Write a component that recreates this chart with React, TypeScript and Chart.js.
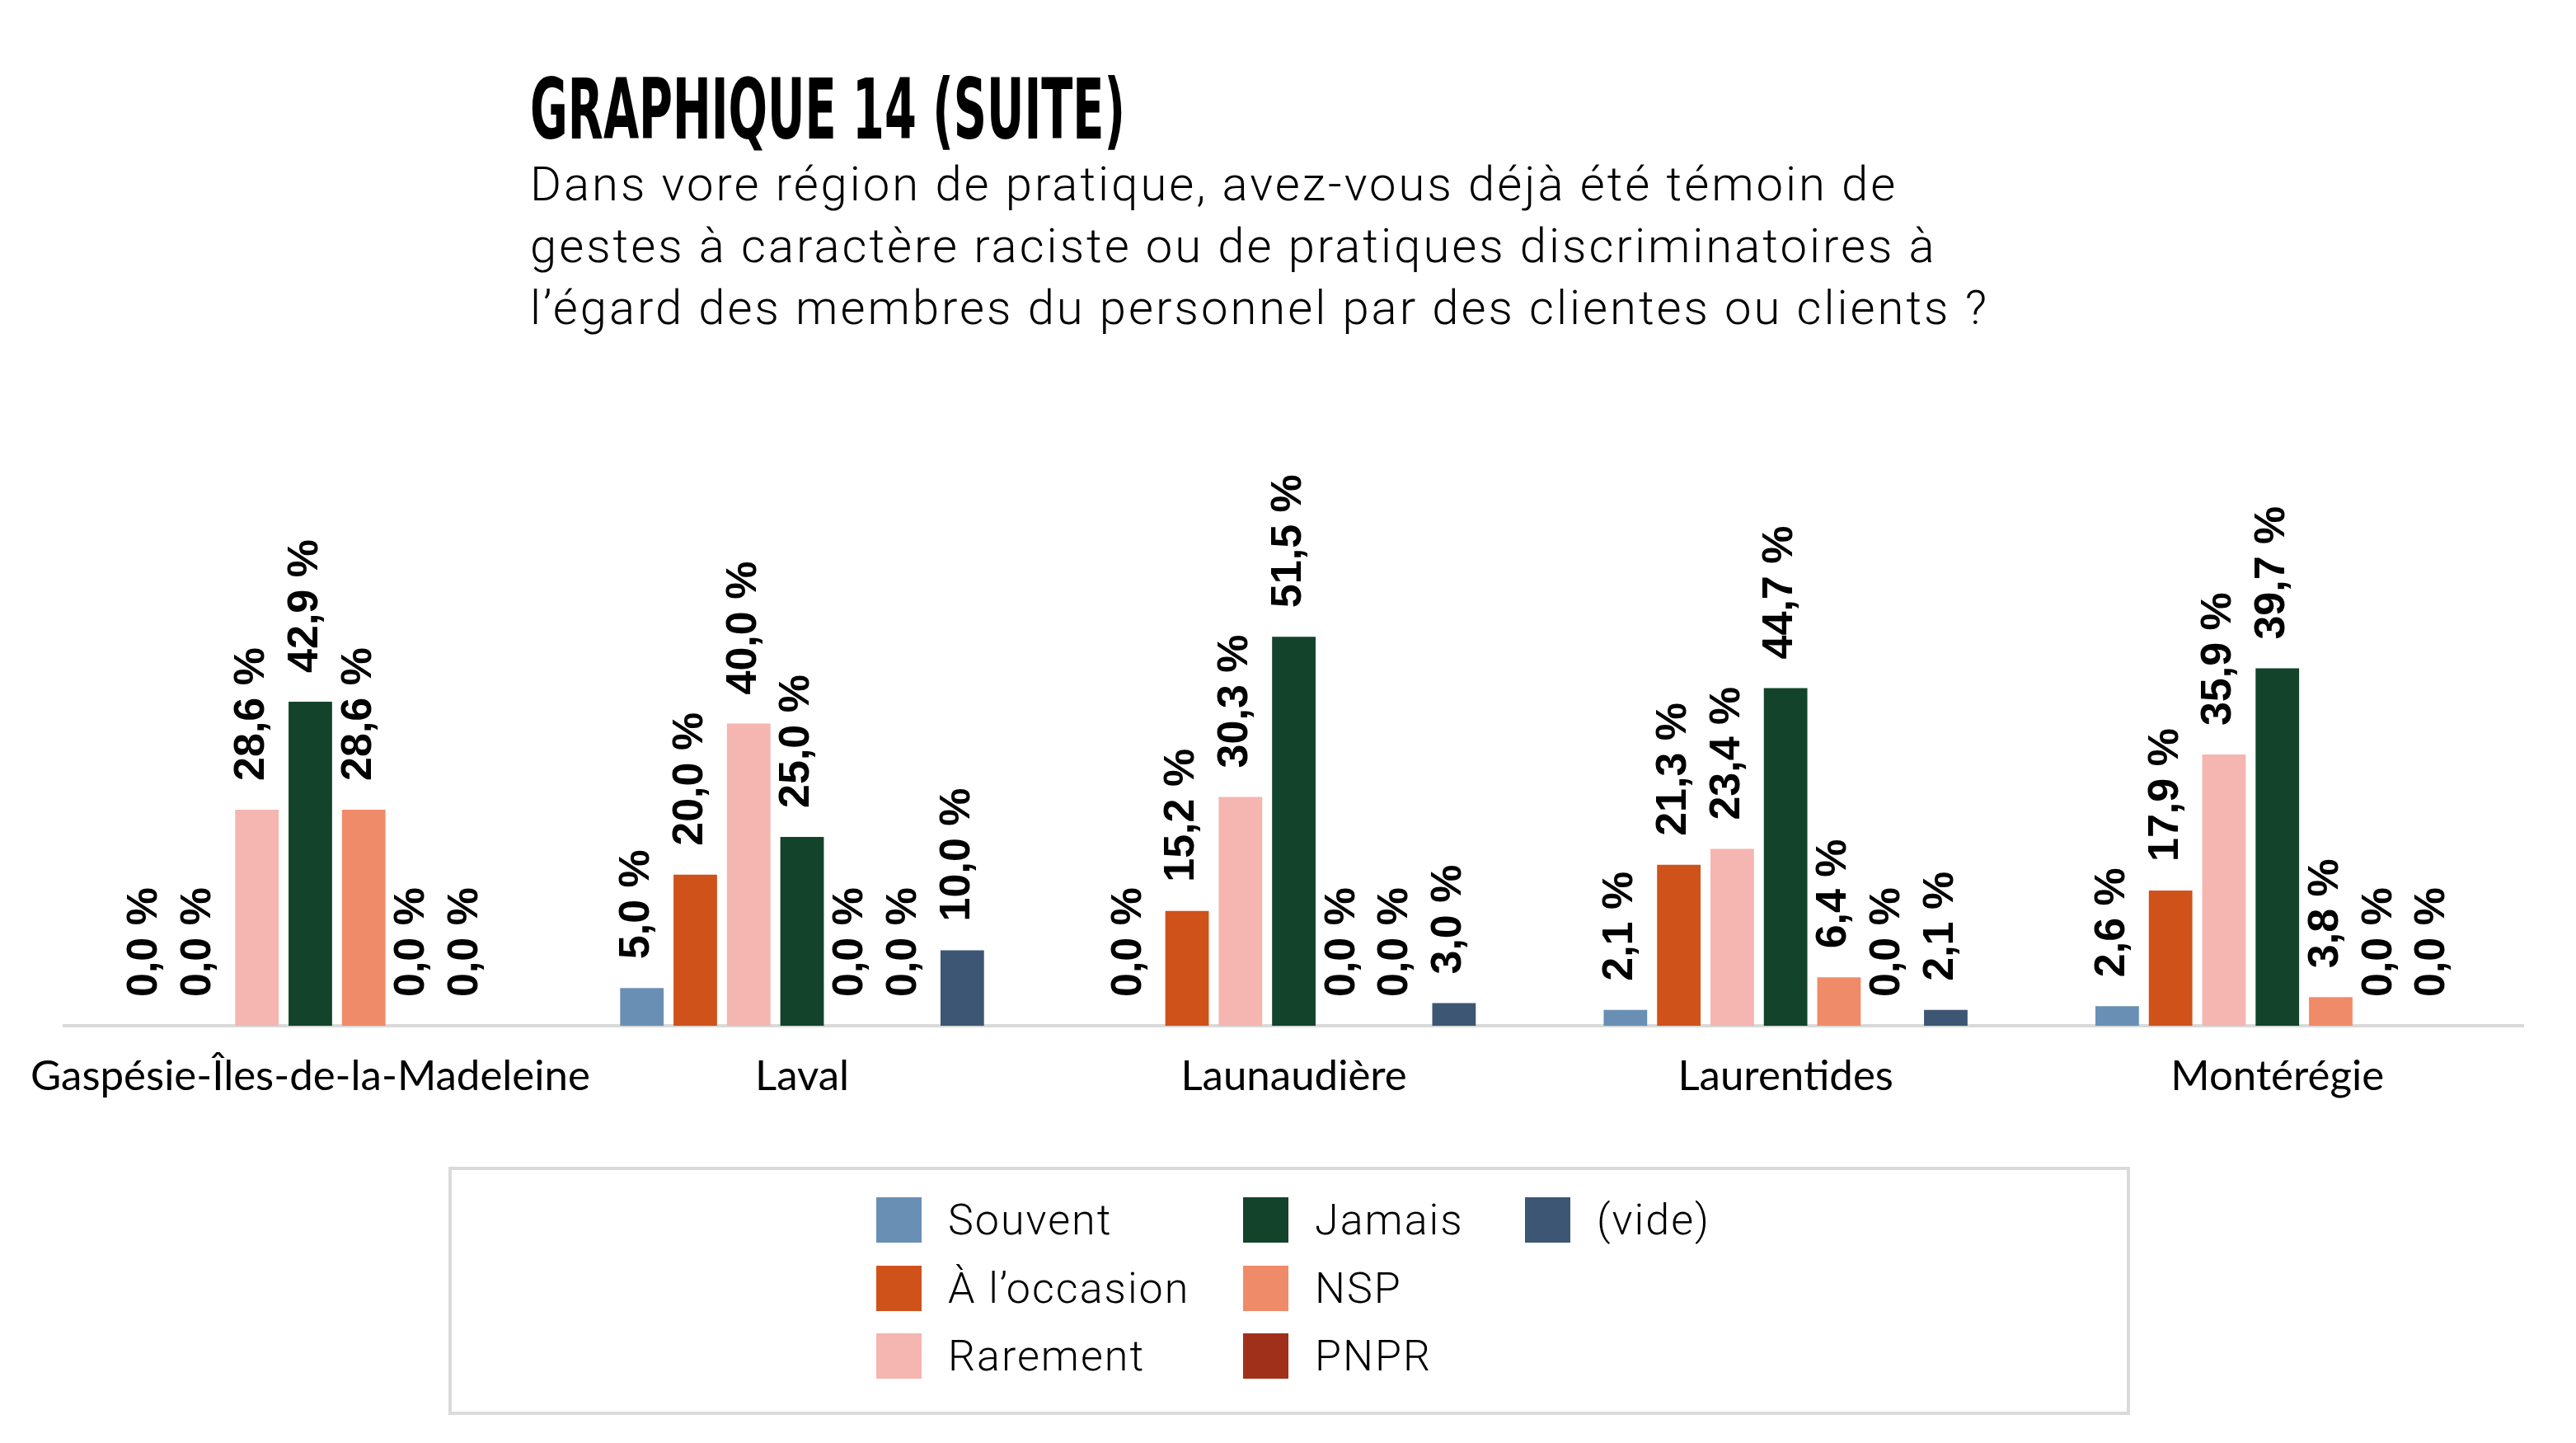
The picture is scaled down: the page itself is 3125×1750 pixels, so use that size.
import React, { useEffect, useLayoutEffect, useRef } from "react";
import { Chart, registerables } from "chart.js";

Chart.register(...registerables);

// ---------- data ----------
const categories = [
  "Gaspésie-Îles-de-la-Madeleine",
  "Laval",
  "Launaudière",
  "Laurentides",
  "Montérégie",
];
const seriesNames = ["Souvent", "À l’occasion", "Rarement", "Jamais", "NSP", "PNPR", "(vide)"];
const seriesColors = ["#6a8fb4", "#cf521b", "#f5b5b0", "#13432b", "#f08b69", "#a1301a", "#3d5674"];
const souvent = [0.0, 5.0, 0.0, 2.1, 2.6];
const occasion = [0.0, 20.0, 15.2, 21.3, 17.9];
const rarement = [28.6, 40.0, 30.3, 23.4, 35.9];
// bar heights as drawn in the source (the Montérégie bar is drawn taller than its printed label)
const jamais = [42.9, 25.0, 51.5, 44.7, 47.3];
// values printed above the Jamais bars
const jamaisPrinted = [42.9, 25.0, 51.5, 44.7, 39.7];
const nsp = [28.6, 0.0, 0.0, 6.4, 3.8];
const pnpr = [0.0, 0.0, 0.0, 0.0, 0.0];
const vide = [0.0, 10.0, 3.0, 2.1, 0.0];
const seriesValues = [souvent, occasion, rarement, jamais, nsp, pnpr, vide];
const printedValues = [souvent, occasion, rarement, jamaisPrinted, nsp, pnpr, vide];

const titleText = "GRAPHIQUE 14 (SUITE)";
const subtitleLines = [
  "Dans vore région de pratique, avez-vous déjà été témoin de",
  "gestes à caractère raciste ou de pratiques discriminatoires à",
  "l’égard des membres du personnel par des clientes ou clients ?",
];

const TITLE_W = 722;

const formatValue = (v: number) => v.toFixed(1).replace(".", ",") + " %";

const valueLabels = {
  id: "valueLabels",
  afterDatasetsDraw(chart: any) {
    const ctx = chart.ctx;
    ctx.save();
    ctx.font = 'bold 52px "Liberation Sans", Arial, sans-serif';
    ctx.fillStyle = "#000";
    ctx.textAlign = "left";
    ctx.textBaseline = "middle";
    chart.data.datasets.forEach((ds: any, di: number) => {
      const meta = chart.getDatasetMeta(di);
      meta.data.forEach((bar: any, i: number) => {
        const v = printedValues[di][i];
        ctx.save();
        ctx.translate(bar.x - 6, bar.y - 35);
        ctx.rotate(-Math.PI / 2);
        ctx.fillText(formatValue(v), 0, 0);
        ctx.restore();
      });
    });
    ctx.restore();
  },
};

export default function App() {
  const canvasRef = useRef<HTMLCanvasElement>(null);
  const titleRef = useRef<HTMLSpanElement>(null);

  useLayoutEffect(() => {
    document.body.style.margin = "0";
    const t = titleRef.current;
    if (t) {
      t.style.transform = "none";
      const w = t.getBoundingClientRect().width;
      t.style.transform = `scaleX(${TITLE_W / w})`;
    }
  }, []);

  useEffect(() => {
    const canvas = canvasRef.current;
    if (!canvas) return;
    const chart = new Chart(canvas, {
      type: "bar",
      data: {
        labels: categories,
        datasets: seriesNames.map((name, i) => ({
          label: name,
          data: seriesValues[i],
          backgroundColor: seriesColors[i],
          borderWidth: 0,
          categoryPercentage: 0.76,
          barPercentage: 0.815,
        })),
      },
      options: {
        animation: false,
        responsive: false,
        maintainAspectRatio: false,
        layout: { padding: { left: 60, right: 64, top: 511, bottom: 0 } },
        plugins: {
          legend: { display: false },
          tooltip: { enabled: false },
          title: { display: false },
        },
        scales: {
          x: {
            grid: { display: false, drawTicks: false },
            border: { display: true, color: "#d9d9d9", width: 4 },
            ticks: {
              color: "#000",
              font: { family: "Lato", size: 51 },
              padding: 31,
              maxRotation: 0,
              autoSkip: false,
            },
            afterFit: (s: any) => {
              s.height = 156;
            },
          },
          y: { display: false, min: 0, max: 80 },
        },
      },
      plugins: [valueLabels],
    });
    return () => chart.destroy();
  }, []);

  const legendCols = [1063, 1508, 1850];
  const legendRows = [1452, 1535, 1617];

  return (
    <div style={{ position: "relative", width: 3125, height: 1750, background: "#fff", overflow: "hidden" }}>
      <div
        style={{
          position: "absolute",
          left: 643,
          top: 82,
          fontFamily: '"Liberation Sans Narrow", "DejaVu Sans Condensed", "Liberation Sans", sans-serif',
          fontWeight: 700,
          fontSize: 102,
          lineHeight: "102px",
          color: "#000",
          whiteSpace: "nowrap",
        }}
      >
        <span ref={titleRef} style={{ display: "inline-block", transformOrigin: "left center" }}>
          {titleText}
        </span>
      </div>
      <div
        style={{
          position: "absolute",
          left: 643,
          top: 186,
          fontFamily: "Roboto, sans-serif",
          fontWeight: 300,
          fontSize: 58,
          letterSpacing: "3px",
          lineHeight: "75px",
          color: "#000",
          whiteSpace: "nowrap",
        }}
      >
        {subtitleLines.map((l, i) => (
          <div key={i}>{l}</div>
        ))}
      </div>
      <canvas
        ref={canvasRef}
        width={3125}
        height={1400}
        style={{ position: "absolute", left: 0, top: 0, width: 3125, height: 1400 }}
      />
      <div
        style={{
          position: "absolute",
          left: 544,
          top: 1415,
          width: 2040,
          height: 301,
          boxSizing: "border-box",
          border: "4px solid #dadada",
        }}
      />
      {seriesNames.map((name, i) => {
        const col = Math.floor(i / 3);
        const row = i % 3;
        return (
          <div
            key={name}
            style={{
              position: "absolute",
              left: legendCols[col],
              top: legendRows[row],
              height: 55,
              display: "flex",
              alignItems: "center",
              whiteSpace: "nowrap",
            }}
          >
            <div style={{ width: 55, height: 55, background: seriesColors[i] }} />
            <div
              style={{
                marginLeft: 32,
                fontFamily: "Roboto, sans-serif",
                fontWeight: 300,
                fontSize: 52,
                letterSpacing: "2px",
                lineHeight: "55px",
                color: "#000",
              }}
            >
              {name}
            </div>
          </div>
        );
      })}
    </div>
  );
}
